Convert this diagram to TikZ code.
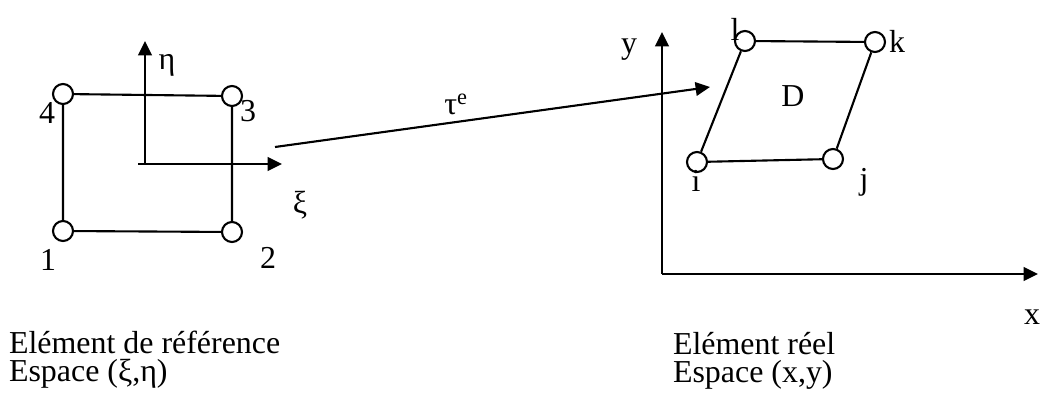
\documentclass[tikz,border=0pt]{standalone}
\usepackage{fontspec}
\setmainfont{Liberation Serif}
\usetikzlibrary{arrows.meta}

\begin{document}
\begin{tikzpicture}[
    x=0.025cm,
    y=-0.025cm,
    line width=1.5pt,
    font=\fontsize{22.7pt}{20pt}\selectfont,
    noeud/.style={circle, draw, fill=white, inner sep=0pt, minimum size=0.5cm},
    fleche/.style={-{Triangle[length=3.6mm, width=3.4mm]}},
    etiq/.style={anchor=base, inner sep=0pt},
    legende/.style={anchor=base west, inner sep=0pt, align=left}
]
\useasboundingbox (0,0) rectangle (1041,399);

% Element de reference
\coordinate (O1) at (145,164);
\coordinate (Oxi) at (138,164);
\coordinate (xi) at (282,164);
\coordinate (eta) at (145,41);

\node[noeud] (n1) at (63,231) {};
\node[noeud] (n2) at (232,232) {};
\node[noeud] (n3) at (232,96) {};
\node[noeud] (n4) at (63,94) {};

\draw (n1) -- (n2) -- (n3) -- (n4) -- (n1);
\draw[fleche] (O1) -- (eta);
\draw[fleche] (Oxi) -- (xi);

\node[etiq] (l1) at (48,271) {1};
\node[etiq] (l2) at (268,269) {2};
\node[etiq] (l3) at (248,122) {3};
\node[etiq] (l4) at (47,124) {4};
\node[etiq] (leta) at (167,70) {η};
\node (lxi) at (300,205) {ξ};

% Element reel
\coordinate (O2) at (662,274);
\coordinate (yax) at (662,32);
\coordinate (xax) at (1038,274);

\node[noeud] (ni) at (697,162) {};
\node[noeud] (nj) at (833,159) {};
\node[noeud] (nk) at (875,42) {};
\node[noeud] (nl) at (745,41) {};

\draw (ni) -- (nj) -- (nk) -- (nl) -- (ni);
\draw[fleche] (O2) -- (yax);
\draw[fleche] (O2) -- (xax);

\node[etiq] (li) at (696,192) {i};
\node[etiq] (lj) at (864,190) {j};
\node[etiq] (lk) at (897,53) {k};
\node[etiq] (ll) at (735,41) {l};
\node[etiq] (lD) at (793,107) {D};
\node[etiq] (ly) at (629,54) {y};
\node[etiq] (lx) at (1032,325) {x};

% Transformation
\coordinate (tdep) at (275,147);
\coordinate (tarr) at (710,87);
\draw[fleche] (tdep) -- (tarr);
\node[etiq] (ltau) at (456,115) {τ\textsuperscript{e}};

% Legendes
\node[legende] (ref) at (8,382) {Elément de référence\\Espace (ξ,η)};
\node[legende] (reel) at (672,383) {Elément réel\\Espace (x,y)};
\end{tikzpicture}
\end{document}
